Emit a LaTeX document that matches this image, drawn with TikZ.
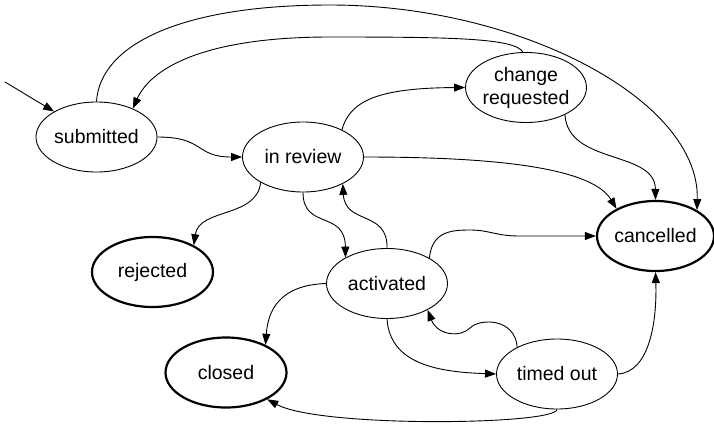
\documentclass[tikz,border=0pt]{standalone}
\usepackage{fontspec}
\setmainfont{Liberation Sans}
\usetikzlibrary{shapes.geometric,arrows.meta}
\tikzset{
  state/.style={ellipse, draw, line width=0.9pt, minimum width=121pt, minimum height=70pt,
    inner sep=-30pt, align=center, font=\fontsize{19.5}{23}\selectfont},
  final/.style={state, line width=2.2pt},
  arr/.style={draw, line width=0.9pt, -{Triangle[length=11pt,width=8pt]}}
}
\begin{document}
\begin{tikzpicture}[x=1pt,y=-1pt]
\useasboundingbox (0,0) rectangle (714,429);
\node[state] (sub) at (96.5,137) {submitted};
\node[state] (rev) at (303,157) {in review};
\node[state] (chg) at (526,87.5) {change\\requested};
\node[final, minimum width=117pt] (can) at (655.5,236) {cancelled};
\node[final] (rej) at (152.5,272) {rejected};
\node[state] (act) at (387,283.5) {activated};
\node[final] (clo) at (226,372.5) {closed};
\node[state] (tim) at (557,374) {timed out};
\coordinate (st) at (5,82);

\draw[arr] (st) -- (sub);
\draw[arr] (sub.east) .. controls (205,137) and (195,157) .. (rev.west);
\draw[arr] (sub.north) .. controls (100,45) and (180,5) .. (330,5)
  .. controls (520,5) and (700,100) .. (can.32);
\draw[arr] (chg.95) .. controls (515,38) and (450,37) .. (330,37)
  .. controls (200,37) and (150,70) .. (sub.38);
\draw[arr] (rev.35) .. controls (350,100) and (380,88) .. (chg.west);
\draw[arr] (rev.east) .. controls (480,157) and (590,165) .. (can.145);
\draw[arr] (chg.-35) .. controls (568,165) and (655,150) .. (can.north);
\draw[arr] (rev.-149) .. controls (257,218) and (199,208) .. (rej.33);
\draw[arr] (rev.south) .. controls (303,230) and (345,210) .. (act.148);
\draw[arr] (act.north) .. controls (388,210) and (345,225) .. (rev.-34);
\draw[arr] (act.31) .. controls (432,232) and (450,230) .. (470,230)
  .. controls (490,230) and (495,236) .. (520,236) -- (can.west);
\draw[arr] (act.west) .. controls (280,285) and (268,310) .. (clo.35);
\draw[arr] (act.south) .. controls (390,365) and (440,372) .. (tim.west);
\draw[arr] (tim.146) .. controls (515,318) and (480,318) .. (470,328)
  .. controls (460,338) and (437,335) .. (act.-33);
\draw[arr] (tim.east) .. controls (650,372) and (657,320) .. (can.south);
\draw[arr] (tim.south) .. controls (555,425) and (320,428) .. (clo.-33);
\end{tikzpicture}
\end{document}
